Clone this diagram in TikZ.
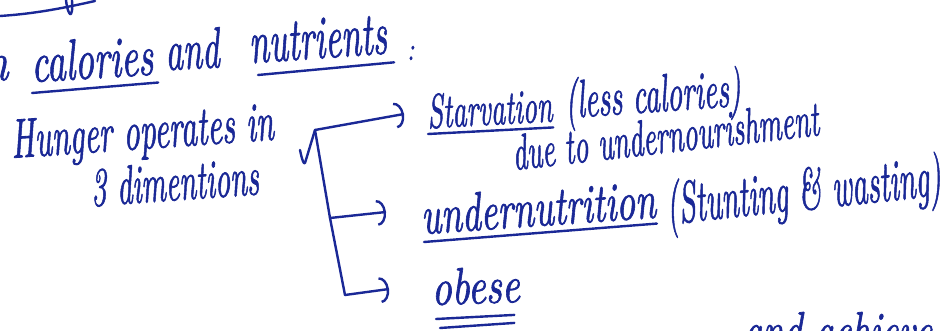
\documentclass[tikz,border=0pt]{standalone}
\usepackage{fontspec}
\usetikzlibrary{arrows.meta}
\newfontfamily\hand{Latin Modern Roman}[FakeBold=1.5]
\definecolor{ink}{RGB}{26,40,150}
\tikzset{
  hw/.style={text=ink, font=\hand\itshape, inner sep=0pt, anchor=base west},
  pen/.style={draw=ink, line width=2.4pt, line cap=round, line join=round},
  barb/.style={-{Arc Barb[length=9pt,width=26pt,line width=2.4pt]}}
}
\newcommand{\hwt}[3]{\resizebox{#1pt}{#2pt}{#3}}
\begin{document}
\begin{tikzpicture}[x=1pt,y=-1pt]
\useasboundingbox (0,0) rectangle (950,331);
\fill[white] (0,0) rectangle (950,331);
\clip (0,0) rectangle (950,331);
% fragment of previous line
\draw[pen] (0,16) .. controls (30,14) and (55,10) .. (95,1);
\draw[pen] (66,0) .. controls (67,10) and (70,16) .. (71,14) .. controls (73,10) and (72,4) .. (72,0);
% line 1
\node[hw] (nfrag) at (-16,80) {\hwt{24}{24}{n}};
\node[hw, rotate=3.5] (cal) at (32,82) {\hwt{122}{40}{calories}};
\node[hw, rotate=3] (and) at (166,70) {\hwt{54}{40}{and}};
\node[hw, rotate=4] (nut) at (250,63) {\hwt{138}{40}{nutrients}};
\node[hw] (colon) at (407,60) {\hwt{7}{14}{:}};
\draw[pen] ([yshift=-11pt]cal.base west) -- ([yshift=-8pt,xshift=4pt]cal.base east);
\draw[pen] ([yshift=-12pt,xshift=8pt]nut.base west) -- ([yshift=-9pt,xshift=6pt]nut.base east);
% left label
\node[hw, rotate=4] (hun) at (12,158) {\hwt{263}{38}{Hunger operates in}};
\node[hw, rotate=4] (dim) at (92,206) {\hwt{168}{38}{3 dimentions}};
% right items
\node[hw, rotate=3] (starv) at (428,128) {\hwt{125}{34}{Starvation}};
\node[hw, rotate=4] (less) at (566,118) {\hwt{176}{40}{(less calories)}};
\node[hw, rotate=6.5] (due) at (514,170) {\hwt{308}{35}{due to undernourishment}};
\node[hw, rotate=4] (undn) at (422,234) {\hwt{235}{38}{undernutrition}};
\node[hw, rotate=6] (stw) at (668,224) {\hwt{276}{44}{(Stunting \& wasting)}};
\node[hw, rotate=2] (obese) at (432,305) {\hwt{88}{36}{obese}};
\node[hw] (ach) at (744,348) {\hwt{188}{36}{and achieve}};
\draw[pen] ([yshift=-6pt]starv.base west) -- ([yshift=-6pt]starv.base east);
\draw[pen] ([yshift=-8pt,xshift=2pt]undn.base west) -- ([yshift=-6pt]undn.base east);
\draw[pen] ([yshift=-14pt,xshift=4pt]obese.base west) -- ([yshift=-13pt,xshift=-6pt]obese.base east);
\draw[pen] ([yshift=-23pt,xshift=8pt]obese.base west) -- ([yshift=-21pt,xshift=-6pt]obese.base east);
% bracket
\coordinate (chk) at (300,150);
\coordinate (root) at (315,130);
\coordinate (mid) at (330,218);
\coordinate (bot) at (345,295);
\coordinate (t1) at (404,114);
\coordinate (t2) at (386,212);
\coordinate (t3) at (389,289);
\draw[pen] (chk) .. controls (302,160) and (304,165) .. (305,163) -- (root);
\draw[pen, barb] (root) -- (t1);
\draw[pen] (root) -- (mid) -- (bot);
\draw[pen, barb] (mid) -- (t2);
\draw[pen, barb] (bot) -- (t3);
\end{tikzpicture}
\end{document}
